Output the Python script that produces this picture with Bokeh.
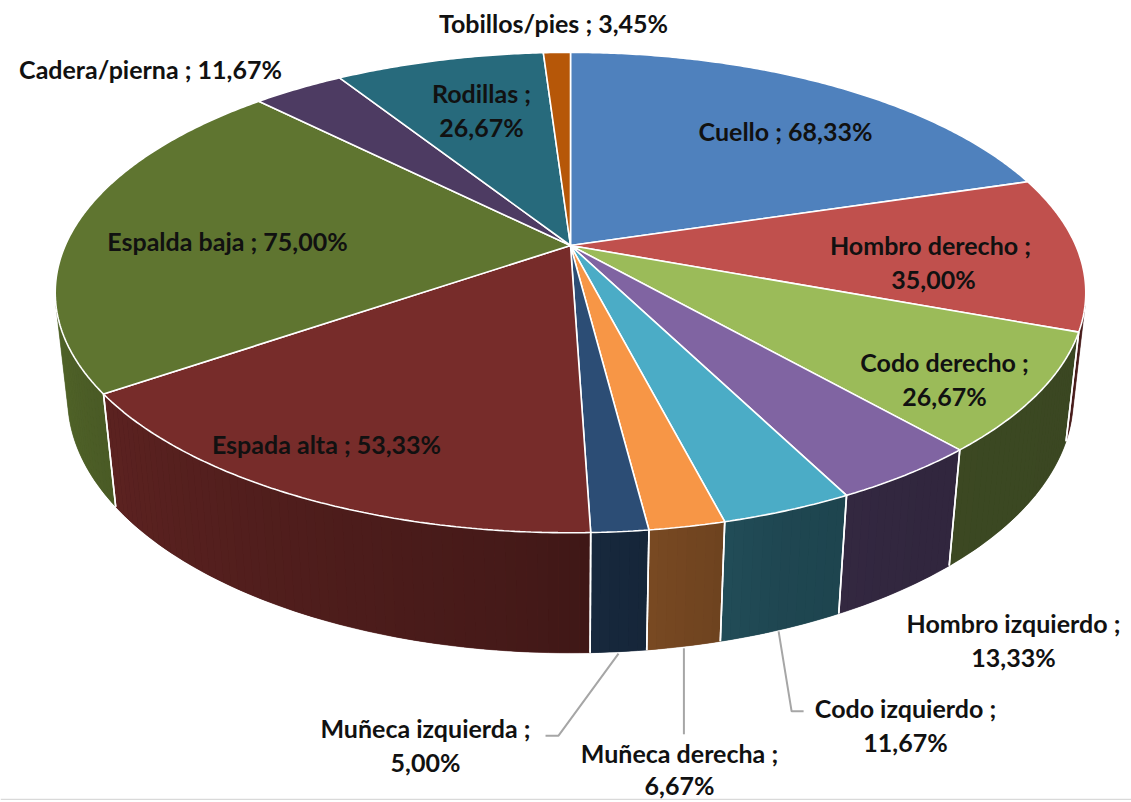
import numpy as np
from bokeh.plotting import figure
from bokeh.models import Range1d
from bokeh.embed import file_html
from bokeh.resources import INLINE
from bokeh.core.properties import value

# ---------------- data ----------------
categories = ["Cuello", "Hombro derecho", "Codo derecho", "Hombro izquierdo",
              "Codo izquierdo", "Muñeca derecha", "Muñeca izquierda", "Espada alta",
              "Espalda baja", "Cadera/pierna", "Rodillas", "Tobillos/pies"]
values = [68.33, 35.00, 26.67, 13.33, 11.67, 6.67, 5.00, 53.33, 75.00, 11.67, 26.67, 3.45]
value_texts = ["68,33%", "35,00%", "26,67%", "13,33%", "11,67%", "6,67%", "5,00%",
               "53,33%", "75,00%", "11,67%", "26,67%", "3,45%"]
colors = ["#4F81BD", "#C0504D", "#9BBB59", "#8064A2", "#4BACC6", "#F79646",
          "#2C4D75", "#772C2A", "#5F7530", "#4D3B62", "#276A7C", "#B65708"]

# ---------------- layout / 3D projection ----------------
W, H = 1131, 800
CX, CY = 570.0, 245.0          # pie apex on page
F, D = 2294.0, 4.54            # perspective
PHI = np.radians(27.2)         # tilt
S, C = np.sin(PHI), np.cos(PHI)
HGT = 0.2365                   # thickness


def proj(X, Z, Y=0.0):
    X = np.asarray(X, float); Z = np.asarray(Z, float)
    yc = Y * C + Z * S
    zc = D + Z * C - Y * S
    return CX + F * X / zc, CY - F * yc / zc


def shade(hex_color, f):
    r, g, b = (int(hex_color[i:i + 2], 16) for i in (1, 3, 5))
    return "#%02x%02x%02x" % tuple(int(max(0, min(255, round(v * f)))) for v in (r, g, b))


def light(a_deg):
    return float(np.interp(a_deg, [194, 205, 265, 275, 290, 305, 346],
                           [0.86, 0.81, 0.58, 0.50, 0.41, 0.385, 0.38]))


total = float(sum(values))
fr = np.array(values) / total
cum = np.concatenate([[0.0], np.cumsum(fr)])
a_start = 90.0 - 360.0 * cum[:-1]   # math angle, start at top, clockwise
a_end = 90.0 - 360.0 * cum[1:]

lim = np.degrees(np.arcsin(1.0 / (D * C)))
VIS_LO, VIS_HI = -180.0 + lim, -lim

p = figure(width=W, height=H, x_range=Range1d(0, W), y_range=Range1d(H, 0),
           output_backend="svg", toolbar_location=None, min_border=0,
           background_fill_color="white", border_fill_color="white")
p.xaxis.visible = False
p.yaxis.visible = False
p.grid.visible = False
p.outline_line_color = None

# ---- side walls (front visible parts), with gradient shading ----
bx_all, by_all, bc_all = [], [], []
sx, sy, sc = [], [], []
edge_x, edge_y = [], []
for i in range(len(values)):
    hi = min(a_start[i], VIS_HI)
    lo = max(a_end[i], VIS_LO)
    if hi <= lo:
        continue
    n = max(2, int(np.ceil((hi - lo) / 1.0)))
    angs = np.linspace(hi, lo, n + 1)
    rad = np.radians(angs)
    tx, ty = proj(np.cos(rad), np.sin(rad))
    bx, by = proj(np.cos(rad[::-1]), np.sin(rad[::-1]), -HGT)
    bx_all.append(list(tx) + list(bx))
    by_all.append(list(ty) + list(by))
    bc_all.append(shade(colors[i], light((0.5 * (hi + lo)) % 360.0)))
    for k in range(n):
        a1, a2 = rad[k], rad[k + 1]
        am = 0.5 * (angs[k] + angs[k + 1]) % 360.0
        qx, qy = proj([np.cos(a1), np.cos(a2)], [np.sin(a1), np.sin(a2)])
        rx, ry = proj([np.cos(a2), np.cos(a1)], [np.sin(a2), np.sin(a1)], -HGT)
        sx.append(list(qx) + list(rx))
        sy.append(list(qy) + list(ry))
        sc.append(shade(colors[i], light(am)))
    for a in (a_start[i], a_end[i]):
        if VIS_LO < a < VIS_HI:
            r = np.radians(a)
            ex, ey = proj([np.cos(r)], [np.sin(r)])
            fx, fy = proj([np.cos(r)], [np.sin(r)], -HGT)
            edge_x.append([ex[0], fx[0]])
            edge_y.append([ey[0], fy[0]])

p.patches(bx_all, by_all, fill_color=bc_all, line_color=bc_all, line_width=0.6)
p.patches(sx, sy, fill_color=sc, line_color=None)
p.multi_line(edge_x, edge_y, line_color="white", line_width=1.6)

# ---- top faces ----
tx_all, ty_all = [], []
for i in range(len(values)):
    n = max(3, int(np.ceil(abs(a_start[i] - a_end[i]) / 0.5)))
    angs = np.radians(np.linspace(a_start[i], a_end[i], n + 1))
    ax, ay = proj(np.cos(angs), np.sin(angs))
    tx_all.append([CX] + list(ax))
    ty_all.append([CY] + list(ay))
p.patches(tx_all, ty_all, fill_color=colors, line_color="white", line_width=1.6)

# ---- leader lines for outside labels ----
leader = {4: (13, 80, 25), 5: (0, 86, 0), 6: (-60, 82, -73)}  # idx: (dx knee, dy, dx end)
lx, ly = [], []
for i, (dxk, dyk, dxe) in leader.items():
    am = np.radians(0.5 * (a_start[i] + a_end[i]))
    bx, by = proj([np.cos(am)], [np.sin(am)], -HGT)
    x0, y0 = bx[0] - (3 if i == 4 else 0), by[0] + 2
    lx.append([x0, x0 + dxk, x0 + dxe])
    ly.append([y0, y0 + dyk, y0 + dyk])
p.multi_line(lx, ly, line_color="#a6a6a6", line_width=2)

# chart-area border (bottom edge visible in the reference)
p.segment(x0=[0], y0=[799], x1=[W], y1=[799], line_color="#d9d9d9", line_width=1.5)

# ---- labels ----
sep = {1: "  ;"}
label_layout = {  # idx: (x, y, line gap or 0 for single line)
    0: (785, 130, 0), 1: (933, 244, 34), 2: (944, 361, 34),
    3: (1013, 622, 34), 4: (905, 707, 34), 5: (679, 752, 32),
    6: (425, 727, 34), 7: (326, 443, 0), 8: (227, 240, 0),
    9: (150, 68, 0), 10: (481, 92, 34), 11: (553, 22, 0),
}
txt_x, txt_y, txt = [], [], []
for i, (x, y, gap) in label_layout.items():
    head = categories[i] + sep.get(i, " ;")
    if gap:
        txt_x += [x, x]; txt_y += [y, y + gap]; txt += [head, value_texts[i]]
    else:
        txt_x.append(x); txt_y.append(y); txt.append(head + " " + value_texts[i])
p.text(txt_x, txt_y, text=txt, text_align="center", text_baseline="middle",
       text_font=value("Lato"), text_font_style="bold", text_font_size="25px",
       text_color="#111111")

open("out.html", "w").write(file_html(p, INLINE))
